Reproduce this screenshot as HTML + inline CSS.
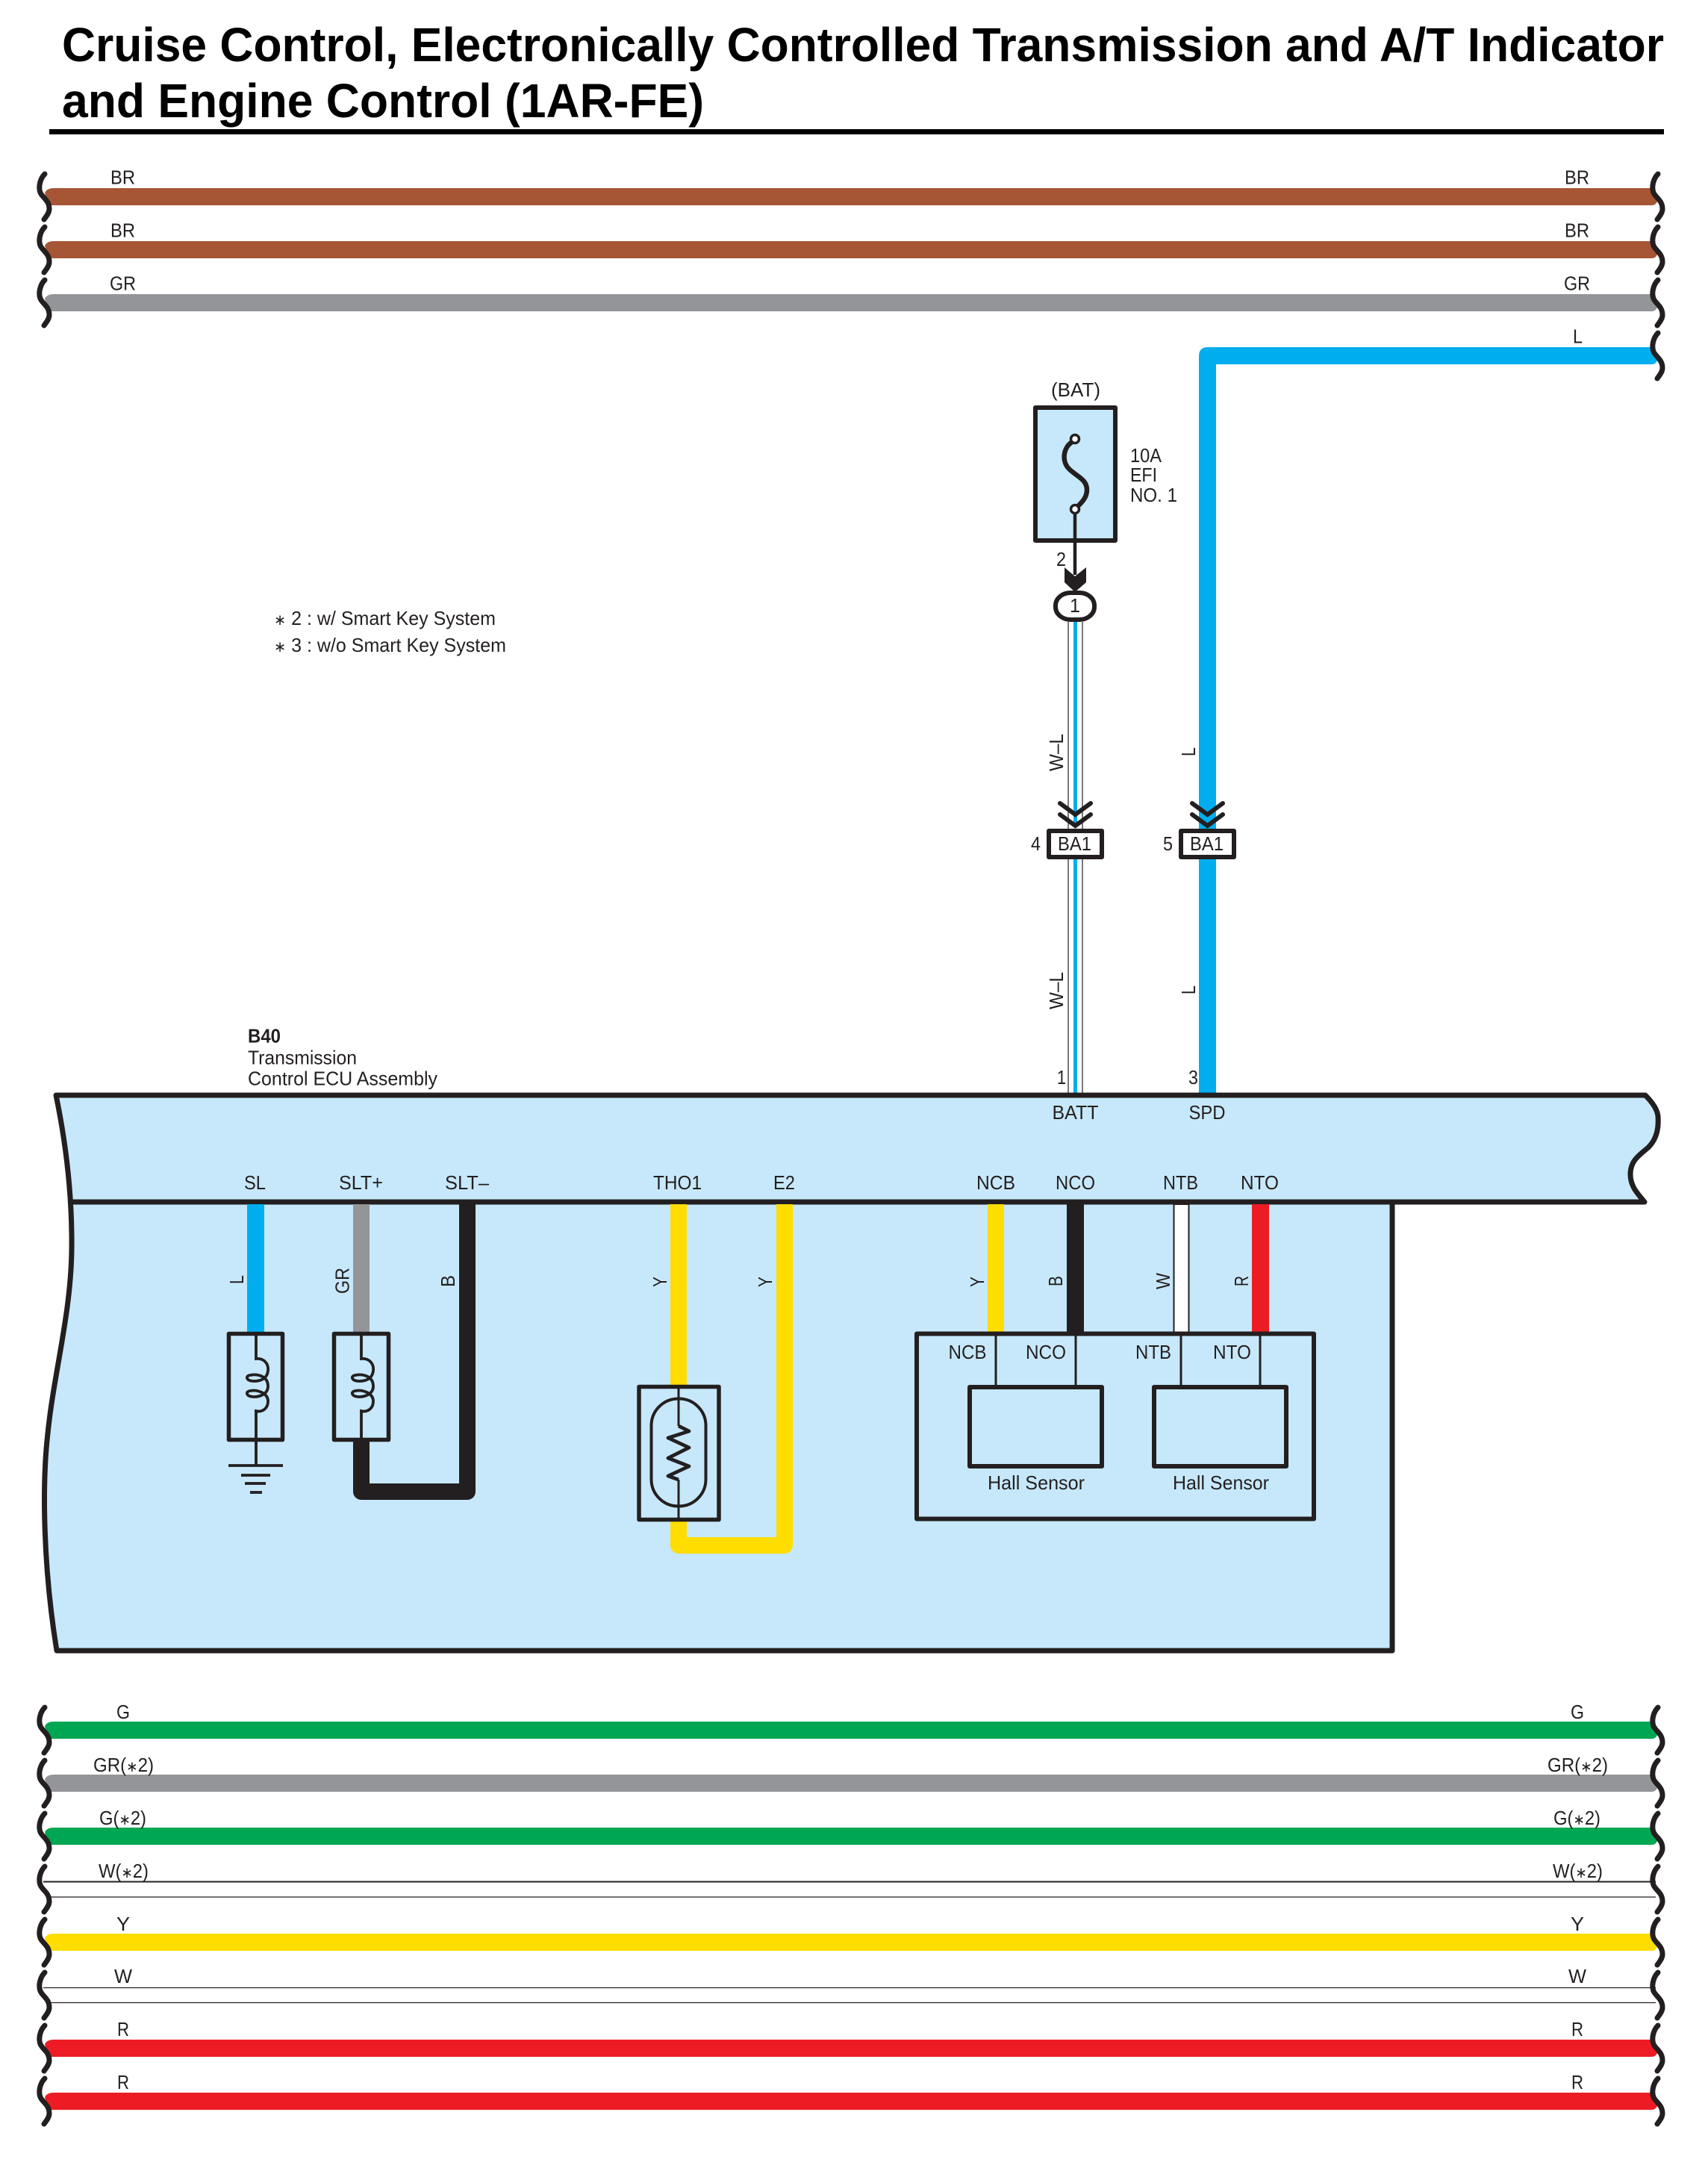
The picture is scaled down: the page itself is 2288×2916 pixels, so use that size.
<!DOCTYPE html>
<html>
<head>
<meta charset="utf-8">
<style>
html,body{margin:0;padding:0;background:#fff}
svg{display:block}
text{font-family:"Liberation Sans",Arial,sans-serif;font-size:26px;fill:#231f20}
.t{font-size:64px;font-weight:bold;fill:#000}
.sq{fill:none;stroke:#231f20;stroke-width:7;stroke-linecap:round}
.k{fill:none;stroke:#231f20}
.s{font-size:20px}
</style>
</head>
<body>
<svg xmlns="http://www.w3.org/2000/svg" width="2288" height="2916" viewBox="0 0 2288 2916">
<rect width="2288" height="2916" fill="#fff"/>

<!-- Title -->
<text class="t" x="83" y="82" textLength="2146" lengthAdjust="spacingAndGlyphs">Cruise Control, Electronically Controlled Transmission and A/T Indicator</text>
<text class="t" x="83" y="157" textLength="860" lengthAdjust="spacingAndGlyphs">and Engine Control (1AR-FE)</text>
<rect x="66" y="173" width="2163" height="7" fill="#000"/>

<!-- Top bus wires -->
<g>
<path fill="#a65535" d="M60 258Q63 252 72 252H2214L2220 270Q2218 275 2212 275H64Z"/>
<path fill="#a65535" d="M60 329Q63 323 72 323H2214L2220 341Q2218 346 2212 346H64Z"/>
<path fill="#939598" d="M60 400Q63 394 72 394H2214L2220 412Q2218 417 2212 417H64Z"/>
<path fill="#00aeef" d="M1606 1464V477Q1606 465 1618 465H2214L2220 483Q2218 488 2212 488H1629V1464Z"/>
</g>
<g id="sqtop">
<path class="sq" d="M60 233C54 239 51 250 54 258C57 265 66 268 66 280C66 285 62 290 59 294"/>
<path class="sq" d="M60 304C54 310 51 321 54 329C57 336 66 339 66 351C66 356 62 361 59 365"/>
<path class="sq" d="M60 375C54 381 51 392 54 400C57 407 66 410 66 422C66 427 62 432 59 436"/>
<path class="sq" d="M2221 233C2215 239 2212 250 2215 258C2218 265 2227 268 2227 280C2227 285 2223 290 2220 294"/>
<path class="sq" d="M2221 304C2215 310 2212 321 2215 329C2218 336 2227 339 2227 351C2227 356 2223 361 2220 365"/>
<path class="sq" d="M2221 375C2215 381 2212 392 2215 400C2218 407 2227 410 2227 422C2227 427 2223 432 2220 436"/>
<path class="sq" d="M2221 446C2215 452 2212 463 2215 471C2218 478 2227 481 2227 493C2227 498 2223 503 2220 507"/>
</g>
<text x="148" y="246.500" textLength="33" lengthAdjust="spacingAndGlyphs">BR</text>
<text x="148" y="317.500" textLength="33" lengthAdjust="spacingAndGlyphs">BR</text>
<text x="147" y="388.500" textLength="35" lengthAdjust="spacingAndGlyphs">GR</text>
<text x="2096" y="246.500" textLength="33" lengthAdjust="spacingAndGlyphs">BR</text>
<text x="2096" y="317.500" textLength="33" lengthAdjust="spacingAndGlyphs">BR</text>
<text x="2095" y="388.500" textLength="35" lengthAdjust="spacingAndGlyphs">GR</text>
<text x="2107" y="459.500" textLength="13" lengthAdjust="spacingAndGlyphs">L</text>

<!-- Footnotes -->
<text x="367" y="837" textLength="297" lengthAdjust="spacingAndGlyphs"><tspan class="s">∗</tspan> 2 : w/ Smart Key System</text>
<text x="367" y="873" textLength="311" lengthAdjust="spacingAndGlyphs"><tspan class="s">∗</tspan> 3 : w/o Smart Key System</text>

<!-- Fuse -->
<text x="1408" y="531" textLength="66" lengthAdjust="spacingAndGlyphs">(BAT)</text>
<rect x="1387" y="546" width="107" height="178" fill="#c7e8fa" stroke="#231f20" stroke-width="6" stroke-linejoin="round"/>
<path class="k" stroke-width="6.500" d="M1436 592C1424 600 1422 618 1432 628C1442 638 1456 642 1456 656C1456 666 1450 672 1444 678"/>
<circle cx="1440" cy="588" r="5.500" fill="#fff" stroke="#231f20" stroke-width="3.500"/>
<circle cx="1440" cy="682" r="5.500" fill="#fff" stroke="#231f20" stroke-width="3.500"/>
<text x="1514" y="619" textLength="42" lengthAdjust="spacingAndGlyphs">10A</text>
<text x="1514" y="645" textLength="36" lengthAdjust="spacingAndGlyphs">EFI</text>
<text x="1514" y="672" textLength="63" lengthAdjust="spacingAndGlyphs">NO. 1</text>
<path class="k" stroke-width="4.500" d="M1440 687V770"/>
<text x="1415" y="758" textLength="13" lengthAdjust="spacingAndGlyphs">2</text>
<polygon fill="#231f20" points="1426,760 1440,772 1455,760 1455,780 1440,793 1426,780"/>

<!-- W-L wire -->
<path stroke="#231f20" stroke-width="1.200" fill="none" d="M1431 833V1110M1450 833V1110M1431 1151V1464M1450 1151V1464"/>
<path stroke="#00aeef" stroke-width="5" fill="none" d="M1440.500 833V1105M1440.500 1151V1464"/>
<rect x="1414" y="794" width="52" height="36" rx="20" ry="17" fill="#fff" stroke="#231f20" stroke-width="6"/>
<text x="1433" y="820" textLength="14" lengthAdjust="spacingAndGlyphs">1</text>

<!-- Chevrons & BA1 -->
<path class="k" stroke-width="6" stroke-linecap="round" d="M1420 1076L1440.500 1091L1461 1076M1420 1091L1440.500 1106L1461 1091"/>
<path class="k" stroke-width="6" stroke-linecap="round" d="M1597 1076L1617.500 1091L1638 1076M1597 1091L1617.500 1106L1638 1091"/>
<rect x="1405" y="1113" width="71" height="35" fill="#fff" stroke="#231f20" stroke-width="6" stroke-linejoin="round"/>
<rect x="1582" y="1113" width="71" height="35" fill="#fff" stroke="#231f20" stroke-width="6" stroke-linejoin="round"/>
<text x="1417" y="1139" textLength="45" lengthAdjust="spacingAndGlyphs">BA1</text>
<text x="1594" y="1139" textLength="45" lengthAdjust="spacingAndGlyphs">BA1</text>
<text x="1381" y="1139" textLength="13" lengthAdjust="spacingAndGlyphs">4</text>
<text x="1558" y="1139" textLength="13" lengthAdjust="spacingAndGlyphs">5</text>

<text transform="translate(1424,1033) rotate(-90)" x="0" y="0" textLength="50" lengthAdjust="spacingAndGlyphs">W–L</text>
<text transform="translate(1424,1352) rotate(-90)" x="0" y="0" textLength="50" lengthAdjust="spacingAndGlyphs">W–L</text>
<text transform="translate(1601,1013) rotate(-90)" x="0" y="0" textLength="12" lengthAdjust="spacingAndGlyphs">L</text>
<text transform="translate(1601,1332) rotate(-90)" x="0" y="0" textLength="12" lengthAdjust="spacingAndGlyphs">L</text>
<text x="1416" y="1452" textLength="12" lengthAdjust="spacingAndGlyphs">1</text>
<text x="1592" y="1452" textLength="13" lengthAdjust="spacingAndGlyphs">3</text>

<!-- ECU header text -->
<text x="332" y="1396.500" textLength="44" lengthAdjust="spacingAndGlyphs" font-weight="bold">B40</text>
<text x="332" y="1425.500" textLength="146" lengthAdjust="spacingAndGlyphs">Transmission</text>
<text x="332" y="1453.500" textLength="254" lengthAdjust="spacingAndGlyphs">Control ECU Assembly</text>

<!-- ECU body -->
<path fill="#c7e8fa" stroke="#231f20" stroke-width="7" stroke-linejoin="round" d="M75 1467C86 1520 97 1590 96 1674C95 1760 72 1840 64 1920C56 1990 58 2100 76 2211H1865V1610H2203C2195 1600 2184 1590 2184 1573C2184 1555 2195 1548 2208 1537C2220 1525 2222 1510 2221 1495C2220 1485 2212 1475 2204 1467Z"/>
<path class="k" stroke-width="7" d="M94 1610H1865"/>

<!-- ECU pin labels -->
<text x="1409.500" y="1499" textLength="62" lengthAdjust="spacingAndGlyphs">BATT</text>
<text x="1592.500" y="1499" textLength="49" lengthAdjust="spacingAndGlyphs">SPD</text>
<text x="327" y="1593" textLength="29" lengthAdjust="spacingAndGlyphs">SL</text>
<text x="454" y="1593" textLength="59" lengthAdjust="spacingAndGlyphs">SLT+</text>
<text x="596" y="1593" textLength="59" lengthAdjust="spacingAndGlyphs">SLT–</text>
<text x="875" y="1593" textLength="65" lengthAdjust="spacingAndGlyphs">THO1</text>
<text x="1036" y="1593" textLength="29" lengthAdjust="spacingAndGlyphs">E2</text>
<text x="1308" y="1593" textLength="52" lengthAdjust="spacingAndGlyphs">NCB</text>
<text x="1414" y="1593" textLength="53" lengthAdjust="spacingAndGlyphs">NCO</text>
<text x="1558" y="1593" textLength="47" lengthAdjust="spacingAndGlyphs">NTB</text>
<text x="1662" y="1593" textLength="51" lengthAdjust="spacingAndGlyphs">NTO</text>

<!-- SL / SLT wires -->
<rect x="331" y="1613" width="23" height="172" fill="#00aeef"/>
<rect x="473" y="1613" width="22" height="172" fill="#939598"/>
<path fill="none" stroke="#231f20" stroke-width="22" stroke-linejoin="round" d="M484 1925V1998H626V1613"/>
<text transform="translate(326,1720) rotate(-90)" x="0" y="0" textLength="12" lengthAdjust="spacingAndGlyphs">L</text>
<text transform="translate(467.500,1733) rotate(-90)" x="0" y="0" textLength="35" lengthAdjust="spacingAndGlyphs">GR</text>
<text transform="translate(609,1724) rotate(-90)" x="0" y="0" textLength="16" lengthAdjust="spacingAndGlyphs">B</text>

<!-- Coil 1 -->
<rect x="306.500" y="1786.500" width="72" height="142" fill="#c7e8fa" stroke="#231f20" stroke-width="5.500" stroke-linejoin="round"/>
<path class="k" stroke-width="3.800" d="M343 1786V1820C354 1819 360 1827 359 1836C358 1846 350 1850 340 1850C330 1850 328 1843 335 1842C345 1840 359 1843 359 1857C359 1866 350 1871 340 1871C330 1871 328 1864 335 1863C345 1861 359 1866 359 1877C359 1886 352 1892 343 1890V1963"/>
<path class="k" stroke-width="3.800" d="M306 1963H379M323 1976H362M328 1987H356M335 1999H351"/>
<!-- Coil 2 -->
<rect x="447.500" y="1786.500" width="73" height="142" fill="#c7e8fa" stroke="#231f20" stroke-width="5.500" stroke-linejoin="round"/>
<path class="k" stroke-width="3.800" d="M484 1786V1820C495 1819 501 1827 500 1836C499 1846 491 1850 481 1850C471 1850 469 1843 476 1842C486 1840 500 1843 500 1857C500 1866 491 1871 481 1871C471 1871 469 1864 476 1863C486 1861 500 1866 500 1877C500 1886 493 1892 484 1890V1931"/>

<!-- Thermistor wires -->
<rect x="898" y="1613" width="22" height="245" fill="#ffdd00"/>
<path fill="none" stroke="#ffdd00" stroke-width="22" stroke-linejoin="round" d="M909 2035V2070H1051V1613"/>
<rect x="856" y="1857.500" width="107" height="178" fill="#c7e8fa" stroke="#231f20" stroke-width="5.500" stroke-linejoin="round"/>
<rect x="872.500" y="1873.500" width="73" height="144" rx="36" ry="36" fill="none" stroke="#231f20" stroke-width="4"/>
<path class="k" stroke-width="3" d="M909 1858V1910M909 1982V2036"/>
<path class="k" stroke-width="4.800" stroke-linejoin="round" d="M909 1910L923 1917L895 1926L923 1939L895 1953L923 1964L895 1977L909 1982"/>
<text transform="translate(893,1724) rotate(-90)" x="0" y="0" textLength="14" lengthAdjust="spacingAndGlyphs">Y</text>
<text transform="translate(1034,1724) rotate(-90)" x="0" y="0" textLength="14" lengthAdjust="spacingAndGlyphs">Y</text>

<!-- Hall wires -->
<rect x="1323" y="1613" width="22" height="172" fill="#ffdd00"/>
<rect x="1429" y="1613" width="23" height="172" fill="#231f20"/>
<rect x="1572.500" y="1613" width="20" height="172" fill="#fff" stroke="#231f20" stroke-width="2"/>
<rect x="1677" y="1613" width="23" height="172" fill="#ed1c24"/>
<text transform="translate(1318,1724) rotate(-90)" x="0" y="0" textLength="14" lengthAdjust="spacingAndGlyphs">Y</text>
<text transform="translate(1423,1723) rotate(-90)" x="0" y="0" textLength="14" lengthAdjust="spacingAndGlyphs">B</text>
<text transform="translate(1567,1727) rotate(-90)" x="0" y="0" textLength="22" lengthAdjust="spacingAndGlyphs">W</text>
<text transform="translate(1672,1723) rotate(-90)" x="0" y="0" textLength="14" lengthAdjust="spacingAndGlyphs">R</text>

<!-- Hall module -->
<rect x="1228" y="1786.500" width="532" height="248" fill="none" stroke="#231f20" stroke-width="6" stroke-linejoin="round"/>
<path class="k" stroke-width="3" d="M1334 1789V1856M1441 1789V1856M1582 1789V1856M1688 1789V1856"/>
<rect x="1299" y="1858" width="177" height="106" fill="none" stroke="#231f20" stroke-width="6" stroke-linejoin="round"/>
<rect x="1546" y="1858" width="177" height="106" fill="none" stroke="#231f20" stroke-width="6" stroke-linejoin="round"/>
<text x="1270.500" y="1820" textLength="51" lengthAdjust="spacingAndGlyphs">NCB</text>
<text x="1374" y="1820" textLength="54" lengthAdjust="spacingAndGlyphs">NCO</text>
<text x="1521" y="1820" textLength="48" lengthAdjust="spacingAndGlyphs">NTB</text>
<text x="1625" y="1820" textLength="51" lengthAdjust="spacingAndGlyphs">NTO</text>
<text x="1323" y="1995" textLength="130" lengthAdjust="spacingAndGlyphs">Hall Sensor</text>
<text x="1571" y="1995" textLength="129" lengthAdjust="spacingAndGlyphs">Hall Sensor</text>

<!-- Bottom bus wires -->
<path fill="#00a651" d="M60 2312Q63 2306 72 2306H2214L2220 2324Q2218 2329 2212 2329H64Z"/>
<path fill="#939598" d="M60 2383Q63 2377 72 2377H2214L2220 2395Q2218 2400 2212 2400H64Z"/>
<path fill="#00a651" d="M60 2454Q63 2448 72 2448H2214L2220 2466Q2218 2471 2212 2471H64Z"/>
<path fill="#ffdd00" d="M60 2596Q63 2590 72 2590H2214L2220 2608Q2218 2613 2212 2613H64Z"/>
<path fill="#ed1c24" d="M60 2738Q63 2732 72 2732H2214L2220 2750Q2218 2755 2212 2755H64Z"/>
<path fill="#ed1c24" d="M60 2809Q63 2803 72 2803H2214L2220 2821Q2218 2826 2212 2826H64Z"/>
<path stroke="#231f20" fill="none" stroke-width="2" d="M58 2520.500H2218"/>
<path stroke="#231f20" fill="none" stroke-width="1.200" d="M64 2541H2218M58 2662.500H2218M64 2682.500H2218"/>

<path class="sq" d="M60 2287C54 2293 51 2304 54 2312C57 2319 66 2322 66 2334C66 2339 62 2344 59 2348"/>
<path class="sq" d="M60 2358C54 2364 51 2375 54 2383C57 2390 66 2393 66 2405C66 2410 62 2415 59 2419"/>
<path class="sq" d="M60 2429C54 2435 51 2446 54 2454C57 2461 66 2464 66 2476C66 2481 62 2486 59 2490"/>
<path class="sq" d="M60 2500C54 2506 51 2517 54 2525C57 2532 66 2535 66 2547C66 2552 62 2557 59 2561"/>
<path class="sq" d="M60 2571C54 2577 51 2588 54 2596C57 2603 66 2606 66 2618C66 2623 62 2628 59 2632"/>
<path class="sq" d="M60 2642C54 2648 51 2659 54 2667C57 2674 66 2677 66 2689C66 2694 62 2699 59 2703"/>
<path class="sq" d="M60 2713C54 2719 51 2730 54 2738C57 2745 66 2748 66 2760C66 2765 62 2770 59 2774"/>
<path class="sq" d="M60 2784C54 2790 51 2801 54 2809C57 2816 66 2819 66 2831C66 2836 62 2841 59 2845"/>
<path class="sq" d="M2221 2287C2215 2293 2212 2304 2215 2312C2218 2319 2227 2322 2227 2334C2227 2339 2223 2344 2220 2348"/>
<path class="sq" d="M2221 2358C2215 2364 2212 2375 2215 2383C2218 2390 2227 2393 2227 2405C2227 2410 2223 2415 2220 2419"/>
<path class="sq" d="M2221 2429C2215 2435 2212 2446 2215 2454C2218 2461 2227 2464 2227 2476C2227 2481 2223 2486 2220 2490"/>
<path class="sq" d="M2221 2500C2215 2506 2212 2517 2215 2525C2218 2532 2227 2535 2227 2547C2227 2552 2223 2557 2220 2561"/>
<path class="sq" d="M2221 2571C2215 2577 2212 2588 2215 2596C2218 2603 2227 2606 2227 2618C2227 2623 2223 2628 2220 2632"/>
<path class="sq" d="M2221 2642C2215 2648 2212 2659 2215 2667C2218 2674 2227 2677 2227 2689C2227 2694 2223 2699 2220 2703"/>
<path class="sq" d="M2221 2713C2215 2719 2212 2730 2215 2738C2218 2745 2227 2748 2227 2760C2227 2765 2223 2770 2220 2774"/>
<path class="sq" d="M2221 2784C2215 2790 2212 2801 2215 2809C2218 2816 2227 2819 2227 2831C2227 2836 2223 2841 2220 2845"/>

<text x="156" y="2302" textLength="18" lengthAdjust="spacingAndGlyphs">G</text>
<text x="125" y="2373" textLength="81" lengthAdjust="spacingAndGlyphs">GR(<tspan class="s">∗</tspan>2)</text>
<text x="133" y="2444" textLength="63" lengthAdjust="spacingAndGlyphs">G(<tspan class="s">∗</tspan>2)</text>
<text x="132" y="2515" textLength="67" lengthAdjust="spacingAndGlyphs">W(<tspan class="s">∗</tspan>2)</text>
<text x="156" y="2586" textLength="18" lengthAdjust="spacingAndGlyphs">Y</text>
<text x="153" y="2656" textLength="24" lengthAdjust="spacingAndGlyphs">W</text>
<text x="157" y="2727" textLength="16" lengthAdjust="spacingAndGlyphs">R</text>
<text x="157" y="2798" textLength="16" lengthAdjust="spacingAndGlyphs">R</text>

<text x="2104" y="2302" textLength="18" lengthAdjust="spacingAndGlyphs">G</text>
<text x="2073" y="2373" textLength="81" lengthAdjust="spacingAndGlyphs">GR(<tspan class="s">∗</tspan>2)</text>
<text x="2081" y="2444" textLength="63" lengthAdjust="spacingAndGlyphs">G(<tspan class="s">∗</tspan>2)</text>
<text x="2080" y="2515" textLength="67" lengthAdjust="spacingAndGlyphs">W(<tspan class="s">∗</tspan>2)</text>
<text x="2104" y="2586" textLength="18" lengthAdjust="spacingAndGlyphs">Y</text>
<text x="2101" y="2656" textLength="24" lengthAdjust="spacingAndGlyphs">W</text>
<text x="2105" y="2727" textLength="16" lengthAdjust="spacingAndGlyphs">R</text>
<text x="2105" y="2798" textLength="16" lengthAdjust="spacingAndGlyphs">R</text>
</svg>
</body>
</html>
